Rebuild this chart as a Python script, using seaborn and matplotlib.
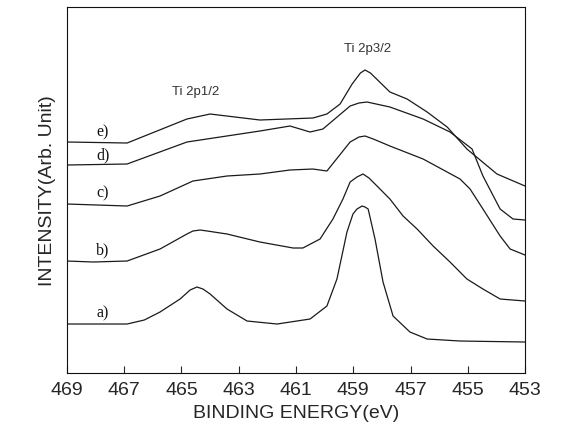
import numpy as np
import pandas as pd
import matplotlib
matplotlib.use("Agg")
import matplotlib.pyplot as plt
import seaborn as sns

# ── Data (arbitrary intensity units) ────────────────────────────────────────
energy_a = [469.0, 466.9, 466.3, 465.75, 465.05, 464.7, 464.46, 464.25, 464.0, 463.41,
            462.71, 461.66, 460.51, 459.92, 459.57, 459.22, 459.01, 458.87, 458.69, 458.59,
            458.48, 458.24, 457.96, 457.61, 457.02, 456.42, 455.27, 453.0]
inten_a = [49, 49, 53, 61, 74, 83, 86, 84, 79, 64,
           52, 49, 54, 67, 94, 141, 159, 164, 167, 166,
           164, 134, 91, 57, 41, 34, 32, 31]

energy_b = [469.0, 468.09, 466.9, 465.75, 464.81, 464.6, 464.35, 464.1, 463.41, 462.26,
            461.1, 460.76, 460.16, 459.71, 459.36, 459.11, 458.87, 458.66, 458.45, 458.17,
            457.72, 457.26, 456.77, 456.21, 455.62, 455.03, 454.47, 453.87, 453.0]
inten_b = [112, 111, 112, 124, 139, 142, 143, 142, 139, 131,
           125, 125, 134, 154, 174, 191, 196, 199, 195, 187,
           174, 157, 144, 127, 111, 94, 84, 74, 72]

energy_c = [469.0, 466.9, 465.75, 464.6, 463.41, 462.26, 461.21, 460.41, 459.92, 459.11,
            458.8, 458.59, 458.3, 457.72, 456.56, 455.27, 454.92, 454.47, 453.87, 453.52,
            453.0]
inten_c = [169, 167, 177, 192, 197, 199, 203, 204, 202, 231,
           236, 237, 234, 227, 214, 194, 184, 164, 137, 124,
           118]

energy_d = [469.0, 466.9, 464.81, 462.26, 461.21, 460.51, 460.06, 459.11, 458.8, 458.52,
            457.72, 456.56, 455.62, 454.85, 454.47, 453.87, 453.42, 453.0]
inten_d = [208, 209, 231, 242, 247, 241, 244, 267, 270, 271,
           266, 254, 241, 224, 197, 164, 154, 153]

energy_e = [469.0, 466.9, 464.81, 464.0, 462.26, 460.41, 459.92, 459.46, 459.04, 458.75,
            458.59, 458.4, 457.72, 457.12, 456.42, 455.72, 455.03, 453.98, 453.0]
inten_e = [231, 230, 254, 259, 253, 255, 259, 269, 289, 300,
           303, 300, 281, 274, 261, 246, 224, 199, 187]

curve_labels = ["a)", "b)", "c)", "d)", "e)"]
label_heights = [61, 124, 181, 219, 242]
x_ticks = [469, 467, 465, 463, 461, 459, 457, 455, 453]

curves = [(energy_a, inten_a), (energy_b, inten_b), (energy_c, inten_c),
          (energy_d, inten_d), (energy_e, inten_e)]

# ── Plot ────────────────────────────────────────────────────────────────────
sns.set_style("ticks")
plt.rcParams["font.family"] = ["Liberation Sans", "DejaVu Sans"]

fig = plt.figure(figsize=(5.62, 4.35), dpi=100)
ax = fig.add_axes([0.1192, 0.1402, 0.8150, 0.8414])

for e, i in curves:
    df = pd.DataFrame({"E": e, "I": i})
    sns.lineplot(data=df, x="E", y="I", ax=ax, color="#1a1a1a", linewidth=0.9,
                 estimator=None, sort=False)

for lab, h in zip(curve_labels, label_heights):
    ax.text(467.75, h, lab, fontsize=11.5, family=["Liberation Serif", "DejaVu Serif"],
            ha="center", va="center", color="#111111")

ax.text(464.5, 282, "Ti 2p1/2", fontsize=9.5, ha="center", va="center", color="#333333")
ax.text(458.5, 325, "Ti 2p3/2", fontsize=9.5, ha="center", va="center", color="#333333")

ax.set_xlim(469, 453)
ax.set_ylim(0, 366)
ax.set_xticks(x_ticks)
ax.set_xticklabels([str(t) for t in x_ticks])
ax.set_yticks([])
ax.tick_params(axis="x", direction="in", length=5, width=0.8, labelsize=14, pad=6)
for s in ax.spines.values():
    s.set_linewidth(0.8)
    s.set_color("#111111")

ax.set_xlabel("BINDING ENERGY(eV)", fontsize=14, labelpad=4)
ax.set_ylabel("INTENSITY(Arb. Unit)", fontsize=14, labelpad=8)

plt.savefig("out.png", dpi=100)
plt.close()
